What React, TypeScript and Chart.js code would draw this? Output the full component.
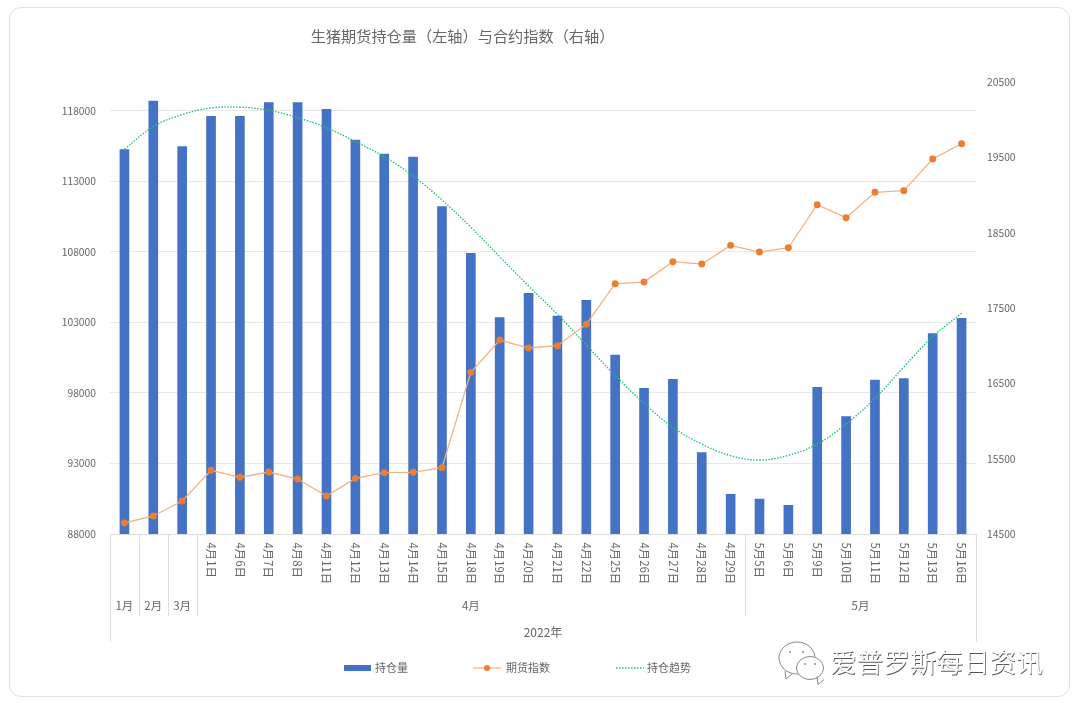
import React, { useEffect, useRef } from "react";
import { Chart, registerables } from "chart.js";

Chart.register(...registerables);

const FONT = '"Noto Sans CJK SC", "Noto Sans", sans-serif';
const TEXT = "#666666";

const categories = [
  "1月", "2月", "3月",
  "4月1日", "4月6日", "4月7日", "4月8日", "4月11日", "4月12日", "4月13日", "4月14日", "4月15日",
  "4月18日", "4月19日", "4月20日", "4月21日", "4月22日", "4月25日", "4月26日", "4月27日", "4月28日", "4月29日",
  "5月5日", "5月6日", "5月9日", "5月10日", "5月11日", "5月12日", "5月13日", "5月16日",
];
const holdings = [
  115255, 118708, 115467, 117623, 117623, 118588, 118588, 118120, 115942, 114950,
  114737, 111212, 107907, 103340, 105070, 103461, 104574, 100695, 98333, 98971,
  93766, 90816, 90482, 90035, 98404, 96319, 98922, 99014, 102205, 103297,
];
const futuresIndex = [
  14646, 14739, 14938, 15346, 15253, 15323, 15230, 15004, 15239, 15314,
  15319, 15380, 16646, 17075, 16969, 17000, 17284, 17823, 17845, 18115,
  18084, 18332, 18243, 18300, 18871, 18699, 19036, 19057, 19478, 19681,
];
const holdingsTrend = [
  115283, 116886, 117737, 118212, 118262, 118049, 117524, 116815, 115822, 114758,
  113389, 111687, 109751, 107666, 105588, 103581, 101404, 99241, 97269, 95567,
  94383, 93553, 93248, 93581, 94383, 95801, 97624, 99844, 101993, 103652,
];
const leftTicks = [88000, 93000, 98000, 103000, 108000, 113000, 118000];
const rightTicks = [14500, 15500, 16500, 17500, 18500, 19500, 20500];
const monthGroups = [
  { label: "1月", from: 0, to: 0 },
  { label: "2月", from: 1, to: 1 },
  { label: "3月", from: 2, to: 2 },
  { label: "4月", from: 3, to: 21 },
  { label: "5月", from: 22, to: 29 },
];
const yearLabel = "2022年";
const titleText = "生猪期货持仓量（左轴）与合约指数（右轴）";
const watermarkText = "爱普罗斯每日资讯";

const multiLevelAxis = {
  id: "multiLevelAxis",
  afterDraw(chart: any) {
    const { ctx, scales } = chart;
    const x = scales.x;
    const base = chart.chartArea.bottom;
    const step = x.getPixelForValue(1) - x.getPixelForValue(0);
    const edge = (i: number) => x.getPixelForValue(i) - step / 2;
    ctx.save();
    ctx.strokeStyle = "#DDDDDD";
    ctx.lineWidth = 1;
    const vLine = (px: number, y2: number) => {
      const p = Math.round(px) + 0.5;
      ctx.beginPath();
      ctx.moveTo(p, base);
      ctx.lineTo(p, y2);
      ctx.stroke();
    };
    vLine(edge(0), 642);
    vLine(edge(categories.length), 642);
    monthGroups.forEach((g) => {
      if (g.from > 0) vLine(edge(g.from), 616);
    });
    ctx.fillStyle = TEXT;
    // rotated day labels
    ctx.font = `11.4px ${FONT}`;
    ctx.textAlign = "left";
    ctx.textBaseline = "middle";
    categories.forEach((c, i) => {
      if (!c.includes("日")) return;
      ctx.save();
      ctx.translate(x.getPixelForValue(i), 542.5);
      ctx.rotate(Math.PI / 2);
      ctx.fillText(c, 0, 0);
      ctx.restore();
    });
    ctx.font = `11.5px ${FONT}`;
    ctx.textAlign = "center";
    monthGroups.forEach((g) => {
      ctx.fillText(g.label, (edge(g.from) + edge(g.to + 1)) / 2, 606);
    });
    ctx.font = `12px ${FONT}`;
    ctx.fillText(yearLabel, (edge(0) + edge(categories.length)) / 2, 632.5);
    ctx.restore();
  },
};

const customLegend = {
  id: "customLegend",
  afterDraw(chart: any) {
    const { ctx } = chart;
    const sets = chart.data.datasets;
    const y = 668;
    ctx.save();
    ctx.font = `11px ${FONT}`;
    ctx.textAlign = "left";
    ctx.textBaseline = "middle";
    ctx.fillStyle = "#4472C4";
    ctx.fillRect(344, y - 3, 27, 6);
    ctx.fillStyle = TEXT;
    ctx.fillText(sets[0].label, 375, y);

    ctx.strokeStyle = sets[1].borderColor;
    ctx.lineWidth = 1.2;
    ctx.beginPath();
    ctx.moveTo(473, y);
    ctx.lineTo(501, y);
    ctx.stroke();
    ctx.fillStyle = sets[1].pointBackgroundColor;
    ctx.beginPath();
    ctx.arc(487, y, 3, 0, Math.PI * 2);
    ctx.fill();
    ctx.fillStyle = TEXT;
    ctx.fillText(sets[1].label, 506, y);

    ctx.strokeStyle = sets[2].borderColor;
    ctx.lineWidth = 1.4;
    ctx.setLineDash(sets[2].borderDash);
    ctx.beginPath();
    ctx.moveTo(616, y);
    ctx.lineTo(644, y);
    ctx.stroke();
    ctx.setLineDash([]);
    ctx.fillStyle = TEXT;
    ctx.fillText(sets[2].label, 647, y);
    ctx.restore();
  },
};

const watermark = {
  id: "watermark",
  afterDraw(chart: any) {
    const { ctx } = chart;
    ctx.save();
    ctx.lineWidth = 1;
    ctx.strokeStyle = "#8A8A8A";
    ctx.fillStyle = "#FFFFFF";
    const bubble = (cx: number, cy: number, rx: number, ry: number, tx: number) => {
      ctx.beginPath();
      ctx.ellipse(cx, cy, rx, ry, 0, 0, Math.PI * 2);
      ctx.moveTo(tx, cy + ry - 3);
      ctx.lineTo(tx + 1, cy + ry + 5);
      ctx.lineTo(tx + 7, cy + ry);
      ctx.fill();
      ctx.stroke();
      ctx.fillStyle = "#FFFFFF";
    };
    bubble(797, 658, 18, 16, 785);
    bubble(810, 668, 13.5, 11.5, 817);
    ctx.fillStyle = "#8A8A8A";
    [[790, 652], [803, 652], [805, 664], [815, 664]].forEach(([a, b]) => {
      ctx.beginPath();
      ctx.arc(a, b, 1, 0, Math.PI * 2);
      ctx.fill();
    });
    ctx.font = `26.6px ${FONT}`;
    ctx.textAlign = "left";
    ctx.textBaseline = "middle";
    ctx.fillStyle = "#555555";
    ctx.fillText(watermarkText, 830.7, 662.7);
    ctx.fillStyle = "#FFFFFF";
    ctx.fillText(watermarkText, 830, 662);
    ctx.restore();
  },
};

const shiftTitle = {
  id: "shiftTitle",
  afterLayout(chart: any) {
    const t = chart.titleBlock;
    if (t) {
      t.left -= 77.5;
      t.right -= 77.5;
    }
  },
};

export default function App() {
  const ref = useRef<HTMLCanvasElement>(null);
  useEffect(() => {
    const tickFont = { family: FONT, size: 10.3 };
    const chart = new Chart(ref.current as HTMLCanvasElement, {
      type: "bar",
      data: {
        labels: categories,
        datasets: [
          {
            type: "bar",
            label: "持仓量",
            data: holdings,
            backgroundColor: "#4472C4",
            barThickness: 9,
            yAxisID: "y",
            order: 3,
          },
          {
            type: "line",
            label: "期货指数",
            data: futuresIndex,
            borderColor: "#F4B183",
            borderWidth: 1.3,
            pointBackgroundColor: "#ED7D31",
            pointBorderColor: "#ED7D31",
            pointRadius: 2.8,
            tension: 0,
            yAxisID: "y1",
            order: 1,
          },
          {
            type: "line",
            label: "持仓趋势",
            data: holdingsTrend,
            borderColor: "#22C272",
            borderWidth: 1.4,
            borderDash: [1.5, 1.5],
            pointRadius: 0,
            tension: 0.4,
            yAxisID: "y",
            order: 2,
          },
        ],
      } as any,
      options: {
        animation: false,
        responsive: false,
        maintainAspectRatio: false,
        layout: { padding: 0 },
        plugins: {
          legend: { display: false },
          tooltip: { enabled: false },
          title: {
            display: true,
            text: titleText,
            color: TEXT,
            font: { family: FONT, size: 15.2, weight: "normal", lineHeight: 1.2 },
            padding: { top: 26.9, bottom: 36.9 },
          },
        },
        scales: {
          x: {
            grid: { display: false },
            border: { display: true, color: "#DDDDDD" },
            ticks: { display: false },
            afterFit: (s: any) => {
              s.height = 176;
            },
          },
          y: {
            position: "left",
            min: 88000,
            max: 120050,
            afterBuildTicks: (s: any) => {
              s.ticks = leftTicks.map((value) => ({ value }));
            },
            grid: { color: "#E8E8E8", drawTicks: false },
            border: { display: false },
            ticks: {
              color: TEXT,
              font: tickFont,
              padding: 14,
              callback: (v: any) => String(v),
            },
            afterFit: (s: any) => {
              s.width = 110;
            },
          },
          y1: {
            position: "right",
            min: 14500,
            max: 20500,
            afterBuildTicks: (s: any) => {
              s.ticks = rightTicks.map((value) => ({ value }));
            },
            grid: { display: false },
            border: { display: false },
            ticks: {
              color: TEXT,
              font: tickFont,
              padding: 3,
              callback: (v: any) => String(v),
            },
            afterFit: (s: any) => {
              s.width = 104;
            },
          },
        },
      } as any,
      plugins: [shiftTitle, multiLevelAxis, customLegend, watermark],
    });
    return () => chart.destroy();
  }, []);
  return (
    <div style={{ position: "absolute", left: 0, top: 0, width: 1080, height: 710, background: "#fff" }}>
      <div
        style={{
          position: "absolute",
          left: 9,
          top: 7,
          width: 1061,
          height: 690,
          boxSizing: "border-box",
          border: "1px solid #E0E0E0",
          borderRadius: 12,
        }}
      />
      <canvas ref={ref} width={1080} height={710} style={{ position: "absolute", left: 0, top: 0, display: "block" }} />
    </div>
  );
}
